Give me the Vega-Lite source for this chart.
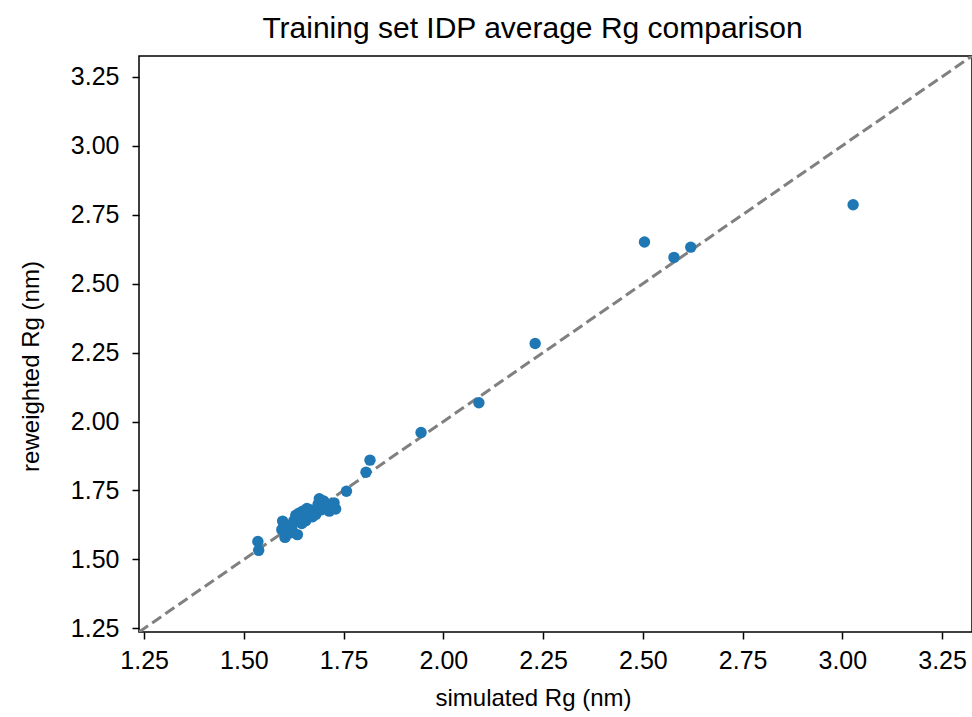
{
  "$schema": "https://vega.github.io/schema/vega-lite/v6.json",
  "width": 833,
  "height": 576,
  "autosize": {"type": "none"},
  "padding": {"left": 139, "top": 56, "right": 0, "bottom": 85},
  "background": "white",
  "config": {
    "font": "Liberation Sans",
    "view": {"stroke": "black", "strokeWidth": 1.5},
    "axis": {
      "grid": false,
      "domain": false,
      "tickColor": "black",
      "tickSize": 7,
      "tickWidth": 1.5,
      "labelColor": "black",
      "labelFontSize": 25,
      "titleColor": "black",
      "titleFontSize": 24,
      "titleFontWeight": "normal"
    }
  },
  "title": {
    "text": "Training set IDP average Rg comparison",
    "fontSize": 30,
    "fontWeight": "normal",
    "color": "black",
    "offset": 12,
    "dx": -23
  },
  "datasets": {
    "points": [
      {"sim": 3.027, "rew": 2.786},
      {"sim": 2.504, "rew": 2.651},
      {"sim": 2.578, "rew": 2.595},
      {"sim": 2.620, "rew": 2.632},
      {"sim": 2.230, "rew": 2.283},
      {"sim": 2.089, "rew": 2.068},
      {"sim": 1.944, "rew": 1.960},
      {"sim": 1.816, "rew": 1.860},
      {"sim": 1.806, "rew": 1.816},
      {"sim": 1.757, "rew": 1.747},
      {"sim": 1.535, "rew": 1.565},
      {"sim": 1.537, "rew": 1.533},
      {"sim": 1.597, "rew": 1.639},
      {"sim": 1.600, "rew": 1.620},
      {"sim": 1.595, "rew": 1.608},
      {"sim": 1.603, "rew": 1.580},
      {"sim": 1.610, "rew": 1.600},
      {"sim": 1.618, "rew": 1.625},
      {"sim": 1.618, "rew": 1.597},
      {"sim": 1.625, "rew": 1.640},
      {"sim": 1.634, "rew": 1.590},
      {"sim": 1.630, "rew": 1.660},
      {"sim": 1.638, "rew": 1.668},
      {"sim": 1.645, "rew": 1.650},
      {"sim": 1.647, "rew": 1.675},
      {"sim": 1.650, "rew": 1.662},
      {"sim": 1.655, "rew": 1.640},
      {"sim": 1.660, "rew": 1.665},
      {"sim": 1.665, "rew": 1.680},
      {"sim": 1.672, "rew": 1.655},
      {"sim": 1.680, "rew": 1.663},
      {"sim": 1.686, "rew": 1.700},
      {"sim": 1.689, "rew": 1.720},
      {"sim": 1.695, "rew": 1.680},
      {"sim": 1.705, "rew": 1.690},
      {"sim": 1.714, "rew": 1.675},
      {"sim": 1.720, "rew": 1.690},
      {"sim": 1.726, "rew": 1.705},
      {"sim": 1.730, "rew": 1.683},
      {"sim": 1.645, "rew": 1.630},
      {"sim": 1.620, "rew": 1.612},
      {"sim": 1.658, "rew": 1.685},
      {"sim": 1.700, "rew": 1.712}
    ],
    "diag": [
      {"sim": 1.237, "rew": 1.237},
      {"sim": 3.325, "rew": 3.325}
    ]
  },
  "layer": [
    {
      "data": {"name": "diag"},
      "mark": {"type": "line", "color": "#808080", "strokeWidth": 3, "strokeDash": [11, 5], "clip": true},
      "encoding": {
        "x": {"field": "sim", "type": "quantitative"},
        "y": {"field": "rew", "type": "quantitative"}
      }
    },
    {
      "data": {"name": "points"},
      "mark": {"type": "circle", "color": "#1f77b4", "opacity": 1, "size": 130, "clip": true},
      "encoding": {
        "x": {
          "field": "sim",
          "type": "quantitative",
          "scale": {"domain": [1.237, 3.325], "nice": false, "zero": false},
          "axis": {"title": "simulated Rg (nm)", "values": [1.25, 1.5, 1.75, 2.0, 2.25, 2.5, 2.75, 3.0, 3.25], "format": ".2f", "labelPadding": 9, "titlePadding": 13, "titleX": 394}
        },
        "y": {
          "field": "rew",
          "type": "quantitative",
          "scale": {"domain": [1.237, 3.325], "nice": false, "zero": false},
          "axis": {"title": "reweighted Rg (nm)", "values": [1.25, 1.5, 1.75, 2.0, 2.25, 2.5, 2.75, 3.0, 3.25], "format": ".2f", "labelPadding": 13, "titlePadding": 27, "titleY": 310}
        }
      }
    }
  ]
}
